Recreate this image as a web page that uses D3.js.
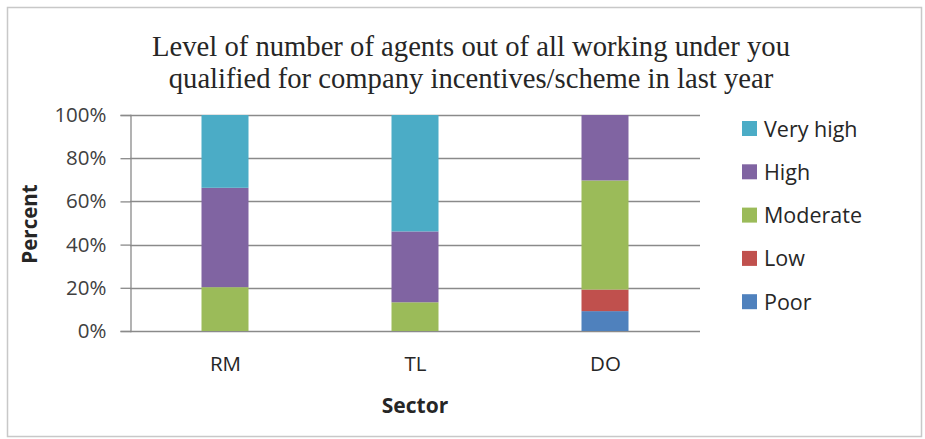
<!DOCTYPE html>
<html>
<head>
<meta charset="utf-8">
<script src="https://cdn.jsdelivr.net/npm/d3@7"></script>
<style>
  html, body { margin: 0; padding: 0; background: #fff; }
  svg { display: block; }
</style>
</head>
<body>
<svg id="chart" width="925" height="439"></svg>
<script>
// Sectors on the x axis
const categories = ["RM", "TL", "DO"];
// Response levels, bottom of the stack first
const levels = ["Poor", "Low", "Moderate", "High", "Very high"];
// Percent of respondents per level, one value per sector
const poor     = [0,    0,    9.2];
const low      = [0,    0,    10.0];
const moderate = [20.3, 13.3, 50.5];
const high     = [46.0, 32.8, 30.3];
const veryHigh = [33.7, 53.9, 0];
const yTicks = [0, 20, 40, 60, 80, 100];
const colors = ["#4F81BD", "#C0504D", "#9BBB59", "#8064A2", "#4BACC6"];
const titleLines = [
  "Level of number of agents out of all working under you",
  "qualified for company incentives/scheme in last year"
];

const seriesValues = [poor, low, moderate, high, veryHigh];
const rows = categories.map((c, i) => {
  const r = { sector: c };
  levels.forEach((l, j) => { r[l] = seriesValues[j][i]; });
  return r;
});

const svg = d3.select("#chart");
const uiFont = "'Open Sans', 'DejaVu Sans', sans-serif";

// outer frame
svg.append("rect")
  .attr("x", 7.5).attr("y", 7.5).attr("width", 914).attr("height", 429)
  .attr("fill", "#fff").attr("stroke", "#c8c8c8").attr("stroke-width", 1.5);

// title, slightly condensed serif
const titleG = svg.append("g")
  .attr("transform", "translate(471,0) scale(0.955,1)");
titleG.selectAll("text").data(titleLines).join("text")
  .attr("x", 0).attr("y", (d, i) => 56.5 + i * 32)
  .attr("text-anchor", "middle")
  .attr("font-family", "'Liberation Serif', 'Times New Roman', serif")
  .attr("font-size", 30)
  .attr("fill", "#262626")
  .text(d => d);

const x = d3.scalePoint().domain(categories).range([130, 700]).padding(0.5);
const y = d3.scaleLinear().domain([0, 100]).range([331, 115]);
const barW = 47;

// horizontal gridlines
svg.append("g").selectAll("line").data(yTicks).join("line")
  .attr("x1", 130).attr("x2", 700)
  .attr("y1", d => Math.round(y(d)) + 0.5).attr("y2", d => Math.round(y(d)) + 0.5)
  .attr("stroke", "#8a8a8a").attr("stroke-width", 1.3);

// y axis
const yAxis = svg.append("g")
  .attr("transform", "translate(130.5,0)")
  .call(d3.axisLeft(y).tickValues(yTicks).tickSize(10).tickPadding(14).tickFormat(d => d + "%"));
yAxis.select(".domain").attr("stroke", "#8a8a8a").attr("stroke-width", 1.3);
yAxis.selectAll(".tick line").attr("stroke", "#8a8a8a").attr("stroke-width", 1.3);
yAxis.selectAll(".tick text")
  .attr("font-family", uiFont).attr("font-size", 20.5).attr("fill", "#404040");

// stacked bars
const stacked = d3.stack().keys(levels)(rows);
svg.append("g").selectAll("g").data(stacked).join("g")
  .attr("fill", (d, i) => colors[i])
  .selectAll("rect").data(d => d).join("rect")
  .attr("x", d => x(d.data.sector) - barW / 2)
  .attr("y", d => y(d[1]))
  .attr("width", barW)
  .attr("height", d => y(d[0]) - y(d[1]));

// x axis labels
const xAxis = svg.append("g")
  .attr("transform", "translate(0,331)")
  .call(d3.axisBottom(x).tickSize(0).tickPadding(25));
xAxis.select(".domain").remove();
xAxis.selectAll(".tick text")
  .attr("font-family", uiFont).attr("font-size", 20.5).attr("fill", "#262626");

// axis titles
svg.append("text")
  .attr("x", 415).attr("y", 413)
  .attr("text-anchor", "middle")
  .attr("font-family", uiFont).attr("font-size", 21).attr("font-weight", "bold")
  .attr("fill", "#262626")
  .text("Sector");
svg.append("text")
  .attr("transform", "translate(37,224) rotate(-90)")
  .attr("text-anchor", "middle")
  .attr("font-family", uiFont).attr("font-size", 20.5).attr("font-weight", "bold")
  .attr("fill", "#262626")
  .text("Percent");

// legend, top entry is the top of the stack
const legendItems = levels.map((l, i) => ({ label: l, color: colors[i] })).reverse();
const legend = svg.append("g").selectAll("g").data(legendItems).join("g")
  .attr("transform", (d, i) => `translate(742,${129 + i * 43.3})`);
legend.append("rect")
  .attr("x", 0).attr("y", -8).attr("width", 15).attr("height", 15)
  .attr("fill", d => d.color);
legend.append("text")
  .attr("x", 22).attr("y", 7.5)
  .attr("font-family", uiFont).attr("font-size", 21.5).attr("fill", "#262626")
  .text(d => d.label);
</script>
</body>
</html>
